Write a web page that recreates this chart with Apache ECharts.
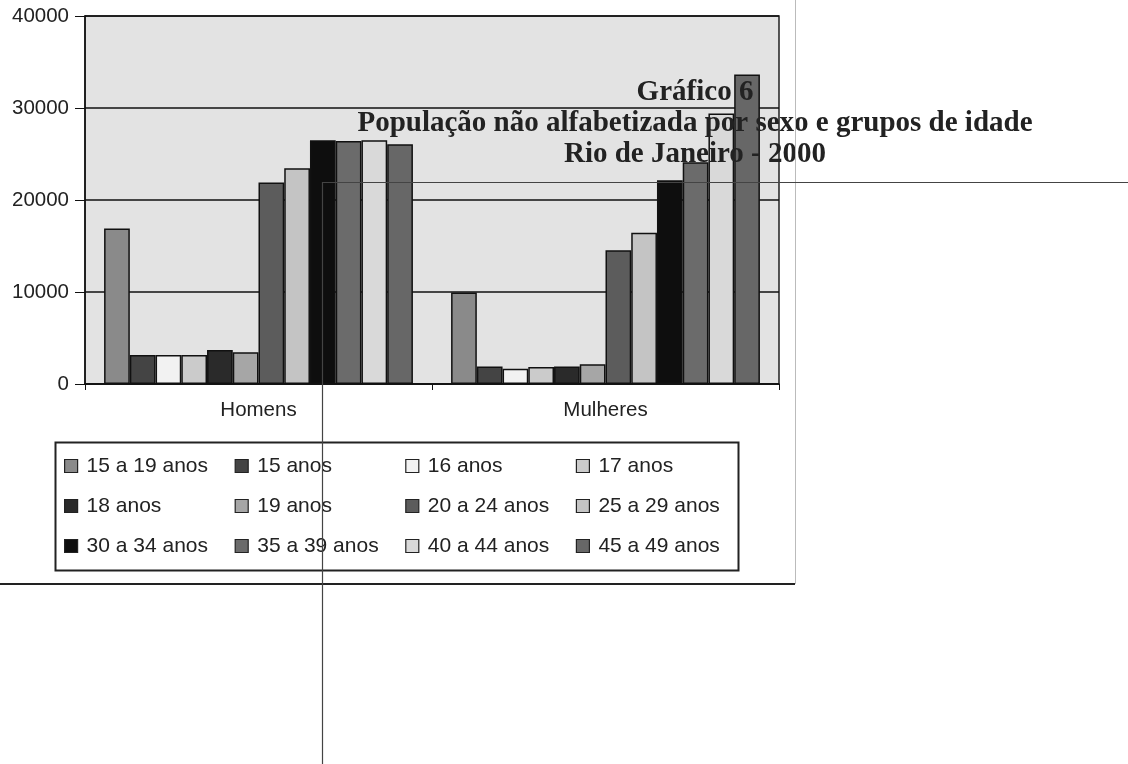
<!DOCTYPE html>
<html>
<head>
<meta charset="utf-8">
<script src="https://cdn.jsdelivr.net/npm/echarts@6/dist/echarts.min.js"></script>
<style>
	html,body{margin:0;padding:0;background:#fff;}
	#main{width:1128px;height:764px;}
</style>
</head>
<body>
<div id="main"></div>
<script>
// categorias do eixo x
var categorias = ['Homens', 'Mulheres'];

// grupos de idade (uma série por grupo)
var grupos = ['15 a 19 anos', '15 anos', '16 anos', '17 anos',
	'18 anos', '19 anos', '20 a 24 anos', '25 a 29 anos',
	'30 a 34 anos', '35 a 39 anos', '40 a 44 anos', '45 a 49 anos'];

// valores
var homens = [16900, 3150, 3150, 3150, 3700, 3450, 21900, 23450, 26500, 26400, 26500, 26050];
var mulheres = [9950, 1900, 1650, 1850, 1900, 2150, 14550, 16450, 22150, 24100, 29400, 33650];

// ticks do eixo y
var yTicks = [0, 10000, 20000, 30000, 40000];

// tons de cinza de cada grupo
var cores = ['#8a8a8a', '#444444', '#f2f2f2', '#cbcbcb', '#2a2a2a', '#a6a6a6',
	'#5c5c5c', '#c4c4c4', '#0e0e0e', '#6b6b6b', '#d9d9d9', '#676767'];

var fonte = '"Liberation Sans", Arial, sans-serif';

var series = [];
for (let i = 0; i < grupos.length; i++) {
	series.push({
		name: grupos[i],
		type: 'bar',
		barGap: 0,
		barCategoryGap: '11%',
		data: [homens[i], mulheres[i]],
		itemStyle: {
			color: cores[i],
			borderColor: '#111',
			borderWidth: 1.5
		}
	});
}

var myChart = echarts.init(document.getElementById('main'), null, {renderer: 'canvas'});

var option = {
	backgroundColor: '#fff',
	animation: false,
	title: {
		text: 'Gráfico 6\nPopulação não alfabetizada por sexo e grupos de idade\nRio de Janeiro - 2000',
		left: 690,
		top: 72,
		textAlign: 'center',
		z: 20,
		textStyle: {
			fontFamily: '"Liberation Serif", serif',
			fontWeight: 'bold',
			fontSize: 29,
			lineHeight: 31,
			color: '#222'
		}
	},
	grid: {
		left: 85,
		right: 349,
		top: 16,
		bottom: 380,
		show: true,
		backgroundColor: '#e3e3e3',
		borderColor: '#222',
		borderWidth: 1.5
	},
	legend: {
		data: grupos,
		left: 64,
		top: 446,
		width: 690,
		padding: 0,
		itemGap: 0,
		itemWidth: 13,
		itemHeight: 13,
		icon: 'rect',
		itemStyle: {borderColor: '#222', borderWidth: 1.2},
		textStyle: {
			fontFamily: fonte,
			fontSize: 21,
			color: '#222',
			width: 148,
			lineHeight: 40,
			padding: [0, 0, 0, 4]
		}
	},
	xAxis: {
		type: 'category',
		data: categorias,
		axisLine: {lineStyle: {color: '#111', width: 1.5}},
		axisTick: {show: true, length: 6, alignWithLabel: false, lineStyle: {color: '#111'}},
		axisLabel: {fontFamily: fonte, fontSize: 20.5, color: '#222', margin: 16}
	},
	yAxis: {
		type: 'value',
		min: yTicks[0],
		max: yTicks[yTicks.length - 1],
		interval: yTicks[1] - yTicks[0],
		axisLine: {show: true, lineStyle: {color: '#111', width: 1.5}},
		axisTick: {show: true, length: 10, lineStyle: {color: '#111'}},
		axisLabel: {
			fontFamily: fonte, fontSize: 20.5, color: '#222', margin: 16,
			formatter: function (v) { return String(v); }
		},
		splitLine: {show: true, lineStyle: {color: '#111', width: 1.5}}
	},
	series: series,
	graphic: [
		// moldura da legenda
		{
			type: 'rect', left: 53, top: 440, z: 0, silent: true,
			shape: {width: 683, height: 128},
			style: {fill: 'none', stroke: '#222', lineWidth: 2}
		},
		// linhas da página digitalizada
		{
			type: 'line', z: 30, silent: true,
			shape: {x1: 0, y1: 584, x2: 795, y2: 584},
			style: {stroke: '#222', lineWidth: 2}
		},
		{
			type: 'line', z: 30, silent: true,
			shape: {x1: 795.5, y1: 0, x2: 795.5, y2: 584},
			style: {stroke: '#bbb', lineWidth: 1}
		},
		{
			type: 'line', z: 30, silent: true,
			shape: {x1: 322, y1: 182.5, x2: 1128, y2: 182.5},
			style: {stroke: '#444', lineWidth: 1.2}
		},
		{
			type: 'line', z: 30, silent: true,
			shape: {x1: 322.5, y1: 182, x2: 322.5, y2: 764},
			style: {stroke: '#444', lineWidth: 1.2}
		}
	]
};

myChart.setOption(option);
</script>
</body>
</html>
